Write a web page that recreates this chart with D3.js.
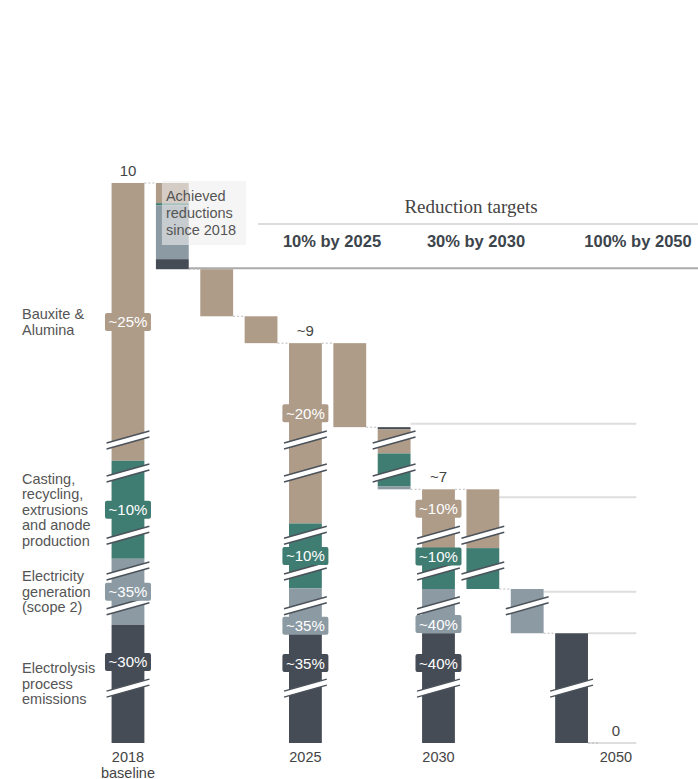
<!DOCTYPE html>
<html>
<head>
<meta charset="utf-8">
<script src="https://cdn.jsdelivr.net/npm/d3@7"></script>
<style>
  body { margin: 0; background: #fff; }
  svg text { font-family: "Liberation Sans", Arial, sans-serif; }
</style>
</head>
<body>
<div id="chart"></div>
<script>
(function() {

  // bars of the waterfall, left to right
  const categories = ["2018", "achieved", "cut1", "cut2", "2025", "cut3", "cut4", "2030", "cut5", "cut6", "cut7", "2050"];
  const kinds = ["total", "step", "step", "step", "total", "step", "step", "total", "step", "step", "step", "total"];

  // segments of each bar, listed top to bottom (display units, 2018 = 10)
  const segments = [
    [["bauxite", 4.96], ["casting", 1.75], ["electricity", 1.18], ["electrolysis", 2.11]],
    [["bauxite", 0.36], ["casting", 0.04], ["electricity", 0.96], ["electrolysis", 0.18]],
    [["bauxite", 0.84]],
    [["bauxite", 0.48]],
    [["bauxite", 3.22], ["casting", 1.16], ["electricity", 0.80], ["electrolysis", 1.96]],
    [["bauxite", 1.50]],
    [["electrolysis", 0.04], ["bauxite", 0.43], ["casting", 0.59], ["electricity", 0.05]],
    [["bauxite", 1.05], ["casting", 0.73], ["electricity", 0.79], ["electrolysis", 1.96]],
    [["bauxite", 1.05], ["casting", 0.73]],
    [["electricity", 0.79]],
    [["electrolysis", 1.96]],
    []
  ];

  const shareLabels = [
    ["~25%", "~10%", "~35%", "~30%"], [], [], [],
    ["~20%", "~10%", "~35%", "~35%"], [], [],
    ["~10%", "~10%", "~40%", "~40%"], [], [], [], []
  ];
  const totalLabels = ["10", "", "", "", "~9", "", "", "~7", "", "", "", "0"];
  const axisLabels = [["2018", "baseline"], [], [], [], ["2025"], [], [], ["2030"], [], [], [], ["2050"]];

  const sources = ["bauxite", "casting", "electricity", "electrolysis"];
  const sourceNames = [
    ["Bauxite &", "Alumina"],
    ["Casting,", "recycling,", "extrusions", "and anode", "production"],
    ["Electricity", "generation", "(scope 2)"],
    ["Electrolysis", "process", "emissions"]
  ];
  const colors = ["#ae9b88", "#3f7c72", "#8b9aa3", "#454c55"];

  const targetLabels = ["10% by 2025", "30% by 2030", "100% by 2050"];

  // scale breaks drawn across bars, and grey guide lines on the right
  const breakLevels = [5.41, 4.82, 3.71, 3.07, 2.45, 0.98];
  const guideLevels = [5.70, 4.39, 2.70, 1.96, 0];
  const guideFrom = ["cut4", "cut5", "cut6", "cut7", "cut7"];

  // layout tweaks for the share labels (px from segment middle)
  const labelNudge = [
    [0, 0, 0, -22], [], [], [],
    [-20, 0, 15, -25], [], [],
    [-10, -12, 13, -25], [], [], [], []
  ];

  let width = 698, height = 779;

  let svg = d3.select("#chart")
    .append("svg")
      .attr("width", width)
      .attr("height", height);

  let x = d3.scaleBand()
      .domain(categories)
      .range([105.8, 638.1])
      .paddingInner(0.26)
      .paddingOuter(0.13);

  let y = d3.scaleLinear()
      .domain([0, 10])
      .range([743, 183]);

  let color = d3.scaleOrdinal()
      .domain(sources)
      .range(colors);

  // walk the waterfall
  let level = 0;
  let bars = categories.map(function(c, i) {
    let sum = d3.sum(segments[i], function(s) { return s[1]; });
    let top, bottom;
    if (kinds[i] === "total") { top = sum; bottom = 0; level = sum; }
    else { top = level; bottom = level - sum; level = bottom; }
    let cur = top;
    let segs = segments[i].map(function(s, j) {
      let seg = { key: s[0], y0: cur - s[1], y1: cur, label: shareLabels[i][j], nudge: labelNudge[i][j] || 0 };
      cur -= s[1];
      return seg;
    });
    return { name: c, top: top, bottom: bottom, end: kinds[i] === "total" ? top : bottom, segs: segs, i: i };
  });

  // header
  svg.append("text")
    .attr("x", 471).attr("y", 213)
    .attr("text-anchor", "middle")
    .style("font-family", "'Liberation Serif', 'Times New Roman', serif")
    .style("font-size", "19px")
    .attr("fill", "#444")
    .text("Reduction targets");

  svg.append("line")
    .attr("x1", 258).attr("x2", 698)
    .attr("y1", 224).attr("y2", 224)
    .attr("stroke", "#dddddd").attr("stroke-width", 2);

  svg.selectAll(".target")
    .data(targetLabels)
    .enter().append("text")
      .attr("x", function(d, i) { return [332, 476, 638][i]; })
      .attr("y", 247)
      .attr("text-anchor", "middle")
      .style("font-size", "16.5px")
      .style("font-weight", "bold")
      .attr("fill", "#3c444c")
      .text(function(d) { return d; });

  // header rule sits on the level left after the achieved reductions
  let achieved = bars[1];
  svg.append("line")
    .attr("x1", x("achieved") + x.bandwidth()).attr("x2", 698)
    .attr("y1", y(achieved.bottom) - 1).attr("y2", y(achieved.bottom) - 1)
    .attr("stroke", "#ababab").attr("stroke-width", 2);

  // guide lines on the right
  svg.selectAll(".guide")
    .data(guideLevels)
    .enter().append("line")
      .attr("x1", function(d, i) { return x(guideFrom[i]) + x.bandwidth(); })
      .attr("x2", x("2050") + x.bandwidth() + 4)
      .attr("y1", function(d) { return y(d); })
      .attr("y2", function(d) { return y(d); })
      .attr("stroke", "#dedede").attr("stroke-width", 2);

  // dashed connectors between bars
  svg.selectAll(".conn")
    .data(bars.slice(0, -1))
    .enter().append("line")
      .attr("x1", function(d) { return x(d.name) + x.bandwidth(); })
      .attr("x2", function(d) { return x(categories[d.i + 1]); })
      .attr("y1", function(d) { return y(d.end); })
      .attr("y2", function(d) { return y(d.end); })
      .attr("stroke", "#bbbbbb").attr("stroke-width", 1)
      .attr("stroke-dasharray", "2,2");

  // bars
  let barG = svg.append("g")
    .selectAll("g")
    .data(bars)
    .enter().append("g")
      .attr("transform", function(d) { return "translate(" + x(d.name) + ",0)"; });

  barG.selectAll("rect")
    .data(function(d) { return d.segs; })
    .enter().append("rect")
      .attr("x", 0)
      .attr("y", function(d) { return y(d.y1); })
      .attr("width", x.bandwidth())
      .attr("height", function(d) { return y(d.y0) - y(d.y1); })
      .attr("fill", function(d) { return color(d.key); });

  // scale breaks
  barG.selectAll(".brk")
    .data(function(d) {
      return breakLevels.filter(function(b) { return b > d.bottom + 0.05 && b < d.top - 0.05; });
    })
    .enter().append("g")
      .attr("transform", function(d) { return "translate(" + (x.bandwidth() / 2) + "," + y(d) + ")"; })
      .each(function() {
        let g = d3.select(this);
        let hw = x.bandwidth() / 2 + 5, rise = 6, gap = 3;
        g.append("path")
          .attr("d", "M" + (-hw) + "," + (rise - gap) + "L" + hw + "," + (-rise - gap) +
                     "L" + hw + "," + (-rise + gap) + "L" + (-hw) + "," + (rise + gap) + "Z")
          .attr("fill", "#fff");
        [-gap, gap].forEach(function(o) {
          g.append("line")
            .attr("x1", -hw).attr("y1", rise + o)
            .attr("x2", hw).attr("y2", -rise + o)
            .attr("stroke", "#4b525a").attr("stroke-width", 1.5);
        });
      });

  // share labels
  let lab = barG.selectAll(".share")
    .data(function(d) { return d.segs.filter(function(s) { return s.label; }); })
    .enter().append("g")
      .attr("transform", function(d) {
        return "translate(" + (x.bandwidth() / 2) + "," + ((y(d.y0) + y(d.y1)) / 2 + d.nudge) + ")";
      });
  lab.append("rect")
    .attr("x", -23).attr("y", -9)
    .attr("width", 46).attr("height", 18)
    .attr("rx", 2)
    .attr("fill", function(d) { return color(d.key); });
  lab.append("text")
    .attr("text-anchor", "middle")
    .attr("dy", "0.36em")
    .style("font-size", "15px")
    .attr("fill", "#fff")
    .text(function(d) { return d.label; });

  // totals above bars
  barG.append("text")
    .attr("x", x.bandwidth() / 2)
    .attr("y", function(d) { return y(d.top) - 7; })
    .attr("text-anchor", "middle")
    .style("font-size", "15px")
    .attr("fill", "#444")
    .text(function(d) { return totalLabels[d.i]; });

  // x labels
  barG.selectAll(".xl")
    .data(function(d) { return axisLabels[d.i]; })
    .enter().append("text")
      .attr("x", x.bandwidth() / 2)
      .attr("y", function(d, j) { return y(0) + 19 + j * 15.5; })
      .attr("text-anchor", "middle")
      .style("font-size", "14.5px")
      .attr("fill", "#444")
      .text(function(d) { return d; });

  // achieved reductions note
  let ax = x("achieved");
  svg.append("rect")
    .attr("x", ax + 6).attr("y", y(achieved.top) - 2)
    .attr("width", 84).attr("height", 64)
    .attr("fill", "#eeeeee").attr("opacity", 0.6);
  svg.selectAll(".note")
    .data(["Achieved", "reductions", "since 2018"])
    .enter().append("text")
      .attr("x", ax + 10)
      .attr("y", function(d, i) { return y(achieved.top) + 18 + i * 17; })
      .style("font-size", "14.5px")
      .attr("fill", "#555")
      .text(function(d) { return d; });

  // source names, centred on the 2018 segments
  let base = bars[0];
  svg.selectAll(".src")
    .data(sources)
    .enter().append("g")
      .each(function(s, i) {
        let seg = base.segs.find(function(d) { return d.key === s; });
        let mid = (y(seg.y0) + y(seg.y1)) / 2;
        let lines = sourceNames[i];
        d3.select(this).selectAll("text")
          .data(lines)
          .enter().append("text")
            .attr("x", 22)
            .attr("y", function(d, j) { return mid + 5 + (j - (lines.length - 1) / 2) * 15.5; })
            .style("font-size", "14.5px")
            .attr("fill", "#555")
            .text(function(d) { return d; });
      });

})();
</script>
</body>
</html>
